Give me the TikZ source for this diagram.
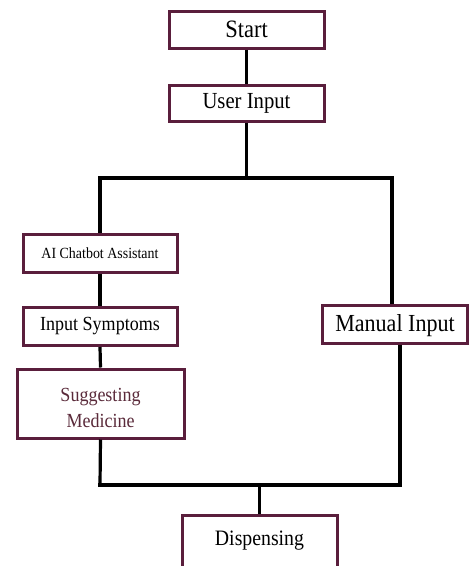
\documentclass[tikz,border=0pt]{standalone}
\usepackage{fontspec}
\setmainfont{Liberation Serif}[FakeStretch=0.9]
\definecolor{boxc}{HTML}{5A1E3C}
\definecolor{txtm}{HTML}{5A2A3A}
\begin{document}
\begin{tikzpicture}[x=1pt,y=-1pt,
  box/.style={draw=boxc,line width=3pt,fill=white,inner sep=0pt},
  lbl/.style={inner sep=0pt,align=center},
  conn/.style={draw=black,line width=3.2pt}]
\useasboundingbox (0,0) rectangle (469,566);
\node[box,minimum width=155pt,minimum height=37pt,font=\fontsize{25}{27}\selectfont] (start) at (246.5,29.5) {Start};
\node[box,minimum width=155pt,minimum height=36pt,font=\fontsize{23}{25}\selectfont] (user) at (246.5,103) {User Input};
\node[box,minimum width=154pt,minimum height=38pt,font=\fontsize{15.5}{17}\selectfont] (ai) at (100,253) {AI Chatbot Assistant};
\node[box,minimum width=154pt,minimum height=38pt,font=\fontsize{20}{22}\selectfont] (sym) at (100,326.5) {Input Symptoms};
\node[box,minimum width=167pt,minimum height=69pt] (sug) at (100.5,403.5) {};
\node[lbl,text=txtm,font=\fontsize{20}{26}\selectfont] (sugt) at (100.5,408) {Suggesting\\Medicine};
\node[box,minimum width=145pt,minimum height=38pt] (man) at (395,324) {};
\node[lbl,font=\fontsize{24.5}{26}\selectfont] (mant) at (395,326) {Manual Input};
\node[box,minimum width=155pt,minimum height=52pt,font=\fontsize{22}{24}\selectfont] (disp) at (259.5,541) {Dispensing};
\coordinate (hl) at (100,178);
\coordinate (hr) at (392,178);
\coordinate (bl) at (100,485);
\coordinate (br) at (400,485);
\path[conn] (start.south -| user.north) -- (user.north);
\path[conn] (user.south) -- (user.south |- hl);
\path[conn,line cap=rect] (hl) -- (hr);
\path[conn] (hl) -- (ai.north);
\path[conn] (ai.south) -- (sym.north);
\path[conn] (sym.south) -- (sug.north);
\path[conn] (hr) -- (hr |- man.north);
\path[conn] (br |- man.south) -- (br);
\path[conn] (sug.south) -- (bl);
\path[conn,line cap=rect] (bl) -- (br);
\path[conn] (disp.north |- bl) -- (disp.north);
\end{tikzpicture}
\end{document}
